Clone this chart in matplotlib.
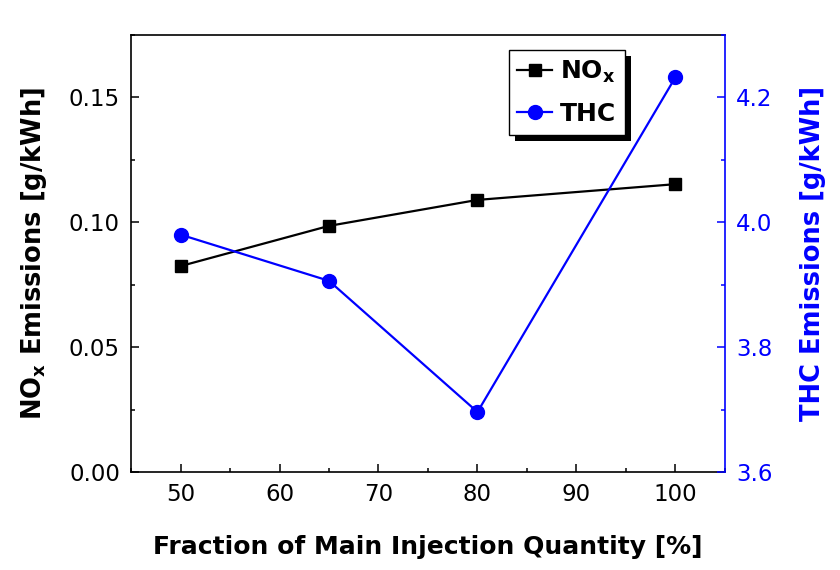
import matplotlib
matplotlib.use("Agg")
import matplotlib.pyplot as plt
from matplotlib.patches import Rectangle
from matplotlib.ticker import MultipleLocator, FormatStrFormatter

plt.rcParams['font.family'] = ['DejaVu Sans']
plt.rcParams['mathtext.fontset'] = 'custom'
plt.rcParams['mathtext.rm'] = 'DejaVu Sans'
plt.rcParams['mathtext.bf'] = 'DejaVu Sans:bold'

fraction = [50, 65, 80, 100]
nox = [0.0824, 0.0985, 0.1089, 0.1152]
thc = [3.980, 3.906, 3.696, 4.232]

blue = '#0000ff'

fig = plt.figure(figsize=(8.4, 5.7), dpi=100)
ax = fig.add_axes([0.156, 0.172, 0.707, 0.767])
ax2 = ax.twinx()

l1, = ax.plot(fraction, nox, color='black', lw=1.6, marker='s', ms=8.5,
              label=r'NO$_\mathbf{x}$')
l2, = ax2.plot(fraction, thc, color=blue, lw=1.6, marker='o', ms=10,
               label='THC')

ax.set_xlim(45, 105)
ax.set_ylim(0, 0.175)
ax2.set_ylim(3.6, 4.3)

ax.xaxis.set_major_locator(MultipleLocator(10))
ax.xaxis.set_minor_locator(MultipleLocator(5))
ax.yaxis.set_major_locator(MultipleLocator(0.05))
ax.yaxis.set_minor_locator(MultipleLocator(0.025))
ax2.yaxis.set_major_locator(MultipleLocator(0.2))
ax2.yaxis.set_minor_locator(MultipleLocator(0.1))
ax.yaxis.set_major_formatter(FormatStrFormatter('%.2f'))
ax2.yaxis.set_major_formatter(FormatStrFormatter('%.1f'))

ax.tick_params(which='major', direction='in', length=6, width=1.1, labelsize=16.5, pad=8)
ax.tick_params(which='minor', direction='in', length=3, width=1.1)
ax.tick_params(axis='y', which='both', right=False)
ax2.tick_params(which='major', direction='in', length=6, width=1.1, labelsize=16.5,
                colors=blue, pad=8)
ax2.tick_params(which='minor', direction='in', length=3, width=1.1, colors=blue)

for s in ax.spines.values():
    s.set_linewidth(1.2)
ax.spines['right'].set_visible(False)
for name, s in ax2.spines.items():
    s.set_linewidth(1.2)
    s.set_visible(name == 'right')
ax2.spines['right'].set_color(blue)

ax.set_xlabel('Fraction of Main Injection Quantity [%]', fontsize=18,
              fontweight='bold', labelpad=21)
ax.set_ylabel(r'NO$_\mathbf{x}$ Emissions [g/kWh]', fontsize=18.5,
              fontweight='bold', labelpad=14)
ax2.set_ylabel('THC Emissions [g/kWh]', fontsize=18.5, fontweight='bold',
               color=blue, labelpad=20)

leg = ax2.legend([l1, l2], [r'NO$_\mathbf{x}$', 'THC'], loc='upper left',
                 bbox_to_anchor=(0.636, 0.966), borderaxespad=0,
                 fancybox=False, edgecolor='black', framealpha=1,
                 handlelength=1.4, handletextpad=0.3, borderpad=0.35,
                 labelspacing=0.7, prop={'weight': 'bold', 'size': 18})
leg.get_frame().set_linewidth(1.0)
leg.set_zorder(10)

fig.canvas.draw()
bb = leg.get_window_extent()
shadow = Rectangle((bb.x0 + 6, bb.y0 - 6), bb.width, bb.height,
                   transform=None, facecolor='black', edgecolor='none',
                   zorder=9, clip_on=False)
ax2.add_artist(shadow)

fig.savefig('out.png', dpi=100)
